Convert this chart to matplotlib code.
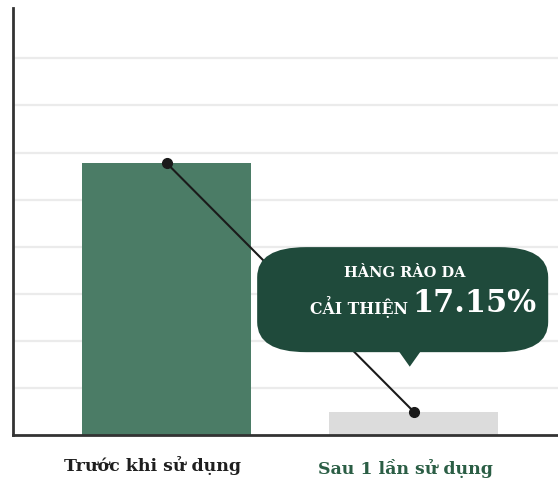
import numpy as np
import matplotlib.pyplot as plt
from matplotlib.patches import FancyBboxPatch, Polygon

# data
categories = ["Trước khi sử dụng", "Sau 1 lần sử dụng"]
values = [5.77, 0.49]
bar_colors = ["#4b7c66", "#dcdcdc"]
label_colors = ["#1f1f1f", "#2b5e45"]
callout_lines = ["HÀNG RÀO DA", "CẢI THIỆN", "17.15%"]

plt.rcParams['font.family'] = ['DejaVu Serif']

fig = plt.figure(figsize=(5.58, 4.79), dpi=100)
ax = fig.add_axes([13/558, 44/479, 545/558, 427/479])

x = np.arange(len(categories))
ax.bar(x, values, width=0.684, color=bar_colors, zorder=2)
ax.plot(x, values, color="#1a1a1a", lw=1.5, marker="o", ms=7, zorder=4)

ax.set_xlim(-0.623, 1.583)
ax.set_ylim(0, 9.07)
ax.set_yticks(np.arange(1, 9))
ax.yaxis.grid(True, color="#ebebeb", lw=1.6, zorder=0)
ax.set_axisbelow(True)
ax.tick_params(left=False, bottom=False, labelleft=False, labelbottom=False)
for s in ["top", "right"]:
    ax.spines[s].set_visible(False)
ax.spines["left"].set_color("#333333")
ax.spines["left"].set_linewidth(2)
ax.spines["bottom"].set_color("#333333")
ax.spines["bottom"].set_linewidth(2)

# category labels
fig.text(152/558, 1 - 466/479, categories[0], ha="center", va="center",
         fontsize=12.5, fontweight="bold", color=label_colors[0])
fig.text(405/558, 1 - 468/479, categories[1], ha="center", va="center",
         fontsize=12.5, fontweight="bold", color=label_colors[1])

# callout bubble
green = "#1f4a3b"
box = FancyBboxPatch((0.448, 0.194), 0.534, 0.246,
                     boxstyle="round,pad=0,rounding_size=0.09",
                     transform=ax.transAxes, fc=green, ec="none", zorder=5,
                     mutation_aspect=427/545)
ax.add_patch(box)
tri = Polygon([(0.708, 0.196), (0.748, 0.196), (0.728, 0.160)],
              closed=True, transform=ax.transAxes, fc=green, ec="none", zorder=5)
ax.add_patch(tri)

fig.text(405/558, 1 - 273/479, callout_lines[0], ha="center", va="center",
         fontsize=10.5, fontweight="bold", color="white", zorder=6)
fig.text(408/558, 1 - 307/479, callout_lines[1], ha="right", va="center",
         fontsize=11.3, fontweight="bold", color="white", zorder=6)
fig.text(412/558, 1 - 304/479, callout_lines[2], ha="left", va="center",
         fontsize=22, fontweight="bold", color="white", zorder=6)

fig.savefig("out.png", dpi=100)
